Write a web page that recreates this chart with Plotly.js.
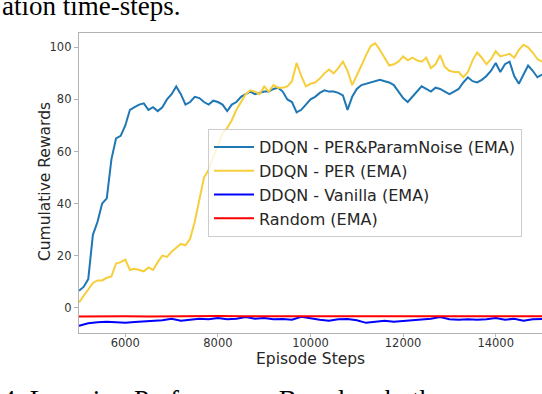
<!DOCTYPE html>
<html>
<head>
<meta charset="utf-8">
<script src="https://cdn.plot.ly/plotly-3.0.1.min.js"></script>
<style>
  html, body { margin: 0; padding: 0; background: #fff; overflow: hidden; }
  #chart { width: 542px; height: 394px; }
</style>
</head>
<body>
<div id="chart"></div>
<script>
// episode steps, every 100 for the two PER runs
var steps = [];
for (var s = 5000; s <= 15000; s += 100) steps.push(s);

var perNoise = [
  6.5, 8, 11, 28, 33, 40, 42, 57, 65, 66,
  70, 76, 77, 78, 78.5, 76, 77, 75.5, 77, 80,
  82, 85, 82, 78, 79, 81, 80.5, 79, 78, 79.5,
  79, 78, 75.5, 78, 79, 81, 82, 83, 82, 82.5,
  83, 83, 84, 84.5, 83, 80, 79, 75, 76, 78,
  80, 81, 82.5, 83.5, 83, 83, 82.5, 81.5, 76, 81,
  84, 85.5, 86, 86.5, 87, 87.5, 87, 86.5, 85.5, 83,
  80.5, 79, 81, 83, 85, 84, 83, 84.5, 84, 83,
  82, 83, 84, 86.5, 88.5, 87, 86.5, 87.5, 89, 91,
  94, 90.5, 93.5, 94.5, 89, 86, 89.5, 93, 91, 88.5,
  89.5
];

var per = [
  2, 4.5, 7, 9.5, 10.5, 10.5, 11.5, 12, 17, 17.5,
  18.5, 14.5, 15, 14.5, 14, 15.5, 14.5, 17.5, 20, 19.5,
  21.5, 23, 24.5, 24, 26.5, 33, 42, 50, 53, 58,
  62, 67, 69, 72, 76, 79, 82, 83.5, 83, 82,
  85, 83, 85.5, 84.5, 84.5, 85, 87, 94, 89, 85,
  86, 86.5, 88, 90, 91.5, 90, 92, 94.5, 91, 85.5,
  89, 93, 97, 100.5, 101.5, 99, 96, 93, 93.5, 94.5,
  96.5, 95, 96, 95, 94.5, 96, 92, 93.5, 97, 92.5,
  91, 90.5, 90.5, 88.5, 90.5, 95, 98, 96, 93.5, 95.5,
  98.5, 96.5, 97, 97.5, 96, 99, 101, 100, 98, 95.5,
  94.5
];

// vanilla every 200 steps
var stepsVanilla = [];
for (var v = 5000; v <= 15000; v += 200) stepsVanilla.push(v);
var vanilla = [
  -6.9, -6, -5.6, -5.4, -5.6, -5.8, -5.5, -5.3, -5.2, -4.8,
  -4.2, -5, -4.6, -4.2, -4.4, -3.9, -4.4, -4.2, -3.6, -4.2,
  -3.9, -4.4, -4.3, -4.6, -3.5, -4.1, -4.6, -5, -4.4, -4.3,
  -4.8, -5.8, -5.3, -5, -5.4, -5.1, -4.8, -4.3, -4.2, -3.6,
  -4.4, -4.6, -4.4, -4.6, -4.4, -3.9, -4.6, -4.2, -5, -4.4,
  -4.3
];

// random agent every 500 steps
var stepsRandom = [];
for (var r = 5000; r <= 15000; r += 500) stepsRandom.push(r);
var random = [
  -3.4, -3.3, -3.3, -3.4, -3.3, -3.3, -3.2, -3.3, -3.3, -3.3,
  -3.3, -3.2, -3.3, -3.3, -3.3, -3.3, -3.2, -3.3, -3.3, -3.3,
  -3.3
];

var names = ['DDQN - PER&ParamNoise (EMA)', 'DDQN - PER (EMA)', 'DDQN - Vanilla (EMA)', 'Random (EMA)'];
var colors = ['#1f77b4', '#f6ce3c', '#0000ff', '#ff0000'];

var data = [
  {x: steps, y: perNoise, name: names[0], type: 'scatter', mode: 'lines', line: {color: colors[0], width: 2}},
  {x: steps, y: per, name: names[1], type: 'scatter', mode: 'lines', line: {color: colors[1], width: 2}},
  {x: stepsVanilla, y: vanilla, name: names[2], type: 'scatter', mode: 'lines', line: {color: colors[2], width: 2}},
  {x: stepsRandom, y: random, name: names[3], type: 'scatter', mode: 'lines', line: {color: colors[3], width: 2}}
];

var axisColor = '#b3b3b3';
var titleFont = {family: 'DejaVu Sans', size: 15.5, color: '#262626'};
var serif = {family: 'Liberation Serif', size: 27, color: '#000'};

var layout = {
  width: 542, height: 394,
  margin: {l: 79, r: 0, t: 33, b: 61},
  paper_bgcolor: '#fff',
  plot_bgcolor: '#fff',
  font: {family: 'DejaVu Sans', size: 11.5, color: '#333'},
  showlegend: true,
  xaxis: {
    range: [5000, 15000],
    tickvals: [6000, 8000, 10000, 12000, 14000],
    ticktext: ['6000', '8000', '10000', '12000', '14000'],
    showgrid: false, zeroline: false,
    showline: true, mirror: true, linecolor: axisColor, linewidth: 1.2,
    ticks: 'outside', ticklen: 3, tickcolor: axisColor,
    ticklabelstandoff: -4
  },
  yaxis: {
    range: [-9.7, 105.5],
    tickvals: [0, 20, 40, 60, 80, 100],
    showgrid: false, zeroline: false,
    showline: true, mirror: true, linecolor: axisColor, linewidth: 1.2,
    ticks: 'outside', ticklen: 4, tickcolor: axisColor
  },
  legend: {
    x: 0.2786, y: 0.68, xanchor: 'left', yanchor: 'top',
    bgcolor: 'rgba(255,255,255,0.8)', bordercolor: '#cccccc', borderwidth: 1,
    font: {size: 16, color: '#262626'},
    itemwidth: 40,
    traceorder: 'normal'
  },
  annotations: [
    {text: 'Episode Steps', xref: 'paper', yref: 'paper', x: 0.5, y: -0.085,
     xanchor: 'center', yanchor: 'middle', showarrow: false, font: titleFont},
    {text: 'Cumulative Rewards', xref: 'paper', yref: 'paper', x: -0.0734, y: 0.503,
     xanchor: 'center', yanchor: 'middle', textangle: -90, showarrow: false, font: titleFont},
    {text: 'ation time-steps.', xref: 'paper', yref: 'paper', x: -0.1706, y: 1.09,
     xanchor: 'left', yanchor: 'middle', showarrow: false, font: serif},
    {text: '4: Learning Performance Based on both', xref: 'paper', yref: 'paper', x: -0.1706, y: -0.222,
     xanchor: 'left', yanchor: 'middle', showarrow: false, font: serif}
  ]
};

Plotly.newPlot('chart', data, layout, {displayModeBar: false, staticPlot: true});
</script>
</body>
</html>
